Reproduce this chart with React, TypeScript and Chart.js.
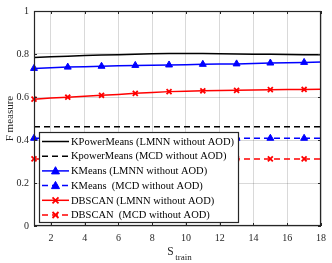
import React, { useEffect, useRef } from "react";
import { Chart, registerables } from "chart.js";

Chart.register(...registerables);

const sTrain = [1, 2, 3, 4, 5, 6, 7, 8, 9, 10, 11, 12, 13, 14, 15, 16, 17, 18];
const kpmLmnn = [0.784, 0.787, 0.79, 0.793, 0.795, 0.797, 0.799, 0.801, 0.802, 0.802, 0.802, 0.801, 0.8, 0.799, 0.799, 0.798, 0.797, 0.796];
const kpmMcd = [0.462, 0.462, 0.462, 0.462, 0.462, 0.462, 0.462, 0.462, 0.462, 0.462, 0.462, 0.462, 0.462, 0.462, 0.462, 0.462, 0.462, 0.462];
const kmLmnn = [0.733, 0.736, 0.739, 0.741, 0.743, 0.745, 0.747, 0.748, 0.749, 0.75, 0.752, 0.753, 0.754, 0.756, 0.758, 0.759, 0.761, 0.763];
const kmMcd = [0.408, 0.408, 0.408, 0.408, 0.408, 0.408, 0.408, 0.408, 0.408, 0.408, 0.408, 0.408, 0.408, 0.408, 0.408, 0.408, 0.408, 0.408];
const dbLmnn = [0.59, 0.595, 0.599, 0.603, 0.608, 0.612, 0.617, 0.621, 0.625, 0.627, 0.629, 0.63, 0.631, 0.633, 0.634, 0.635, 0.635, 0.636];
const dbMcd = [0.312, 0.312, 0.312, 0.312, 0.312, 0.312, 0.312, 0.312, 0.312, 0.312, 0.312, 0.312, 0.312, 0.312, 0.312, 0.312, 0.312, 0.312];
const markerAt = [1, 3, 5, 7, 9, 11, 13, 15, 17];

const xTicks = [2, 4, 6, 8, 10, 12, 14, 16, 18];
const yTicks = [0, 0.2, 0.4, 0.6, 0.8, 1];

const seriesLabels = [
  "KPowerMeans (LMNN without AOD)",
  "KpowerMeans (MCD without AOD)",
  "KMeans (LMNN without AOD)",
  "KMeans  (MCD without AOD)",
  "DBSCAN (LMNN without AOD)",
  "DBSCAN  (MCD without AOD)",
];
const xTitle = "S";
const xTitleSub = "train";
const yTitle = "F measure";

const SERIF = "'Liberation Serif', 'Times New Roman', serif";
const AXIS = "#262626";
const GRID = "rgba(0,0,0,0.15)";
const DASH = [6, 4];

function drawMarker(ctx: CanvasRenderingContext2D, style: string, x: number, y: number, r: number, color: string) {
  ctx.save();
  ctx.fillStyle = color;
  ctx.strokeStyle = color;
  if (style === "triangle") {
    ctx.beginPath();
    ctx.moveTo(x, y - r * 1.05);
    ctx.lineTo(x + r, y + r * 0.75);
    ctx.lineTo(x - r, y + r * 0.75);
    ctx.closePath();
    ctx.fill();
    ctx.lineWidth = 1;
    ctx.stroke();
  } else if (style === "crossRot") {
    ctx.lineWidth = 1.8;
    ctx.beginPath();
    ctx.moveTo(x - r * 0.75, y - r * 0.75);
    ctx.lineTo(x + r * 0.75, y + r * 0.75);
    ctx.moveTo(x + r * 0.75, y - r * 0.75);
    ctx.lineTo(x - r * 0.75, y + r * 0.75);
    ctx.stroke();
  }
  ctx.restore();
}

const framePlugin = {
  id: "frame",
  afterDatasetsDraw(chart: any) {
    const { ctx, chartArea, scales } = chart;
    const { left, right, top, bottom } = chartArea;
    const xs = scales.x;
    const ys = scales.y;
    ctx.save();
    ctx.strokeStyle = AXIS;
    ctx.lineWidth = 1;
    ctx.beginPath();
    for (const v of xTicks) {
      const px = Math.round(xs.getPixelForValue(v)) + 0.5;
      ctx.moveTo(px, bottom);
      ctx.lineTo(px, bottom - 3);
      ctx.moveTo(px, top);
      ctx.lineTo(px, top + 3);
    }
    for (const v of yTicks) {
      const py = Math.round(ys.getPixelForValue(v)) + 0.5;
      ctx.moveTo(left, py);
      ctx.lineTo(left + 3, py);
      ctx.moveTo(right, py);
      ctx.lineTo(right - 3, py);
    }
    ctx.stroke();
    ctx.lineWidth = 1.2;
    ctx.strokeRect(left + 0.5, top + 0.5, right - left - 1, bottom - top - 1);
    ctx.restore();
  },
  afterDraw(chart: any) {
    const { ctx, chartArea } = chart;
    ctx.save();
    // legend
    const lx = 39, ly = 132, lw = 200, lh = 91;
    ctx.fillStyle = "#ffffff";
    ctx.fillRect(lx, ly, lw, lh);
    ctx.strokeStyle = AXIS;
    ctx.lineWidth = 1.2;
    ctx.strokeRect(lx + 0.5, ly + 0.5, lw - 1, lh - 1);
    ctx.font = `10.5px ${SERIF}`;
    ctx.textBaseline = "middle";
    ctx.textAlign = "left";
    chart.data.datasets.forEach((ds: any, i: number) => {
      const cy = ly + 9.5 + i * 14.7;
      ctx.save();
      ctx.strokeStyle = ds.borderColor;
      ctx.lineWidth = 1.5;
      ctx.setLineDash(ds.borderDash || []);
      ctx.beginPath();
      ctx.moveTo(lx + 3, cy);
      ctx.lineTo(lx + 30, cy);
      ctx.stroke();
      ctx.restore();
      if (ds.legendMarker) drawMarker(ctx, ds.legendMarker, lx + 16.5, cy, 4, ds.borderColor);
      ctx.fillStyle = "#000000";
      ctx.fillText(ds.label, lx + 32, cy + 0.5);
    });
    // y title
    ctx.save();
    ctx.translate(10, (chartArea.top + chartArea.bottom) / 2);
    ctx.rotate(-Math.PI / 2);
    ctx.font = `11px ${SERIF}`;
    ctx.fillStyle = AXIS;
    ctx.textAlign = "center";
    ctx.textBaseline = "middle";
    ctx.fillText(yTitle, 0, 0);
    ctx.restore();
    // x title with subscript
    ctx.fillStyle = AXIS;
    ctx.textBaseline = "alphabetic";
    ctx.font = `11.5px ${SERIF}`;
    const sw = ctx.measureText(xTitle).width;
    ctx.font = `9px ${SERIF}`;
    const tw = ctx.measureText(xTitleSub).width;
    const total = sw + 1.5 + tw;
    const cx = (chartArea.left + chartArea.right) / 2 + 2;
    const sx = cx - total / 2;
    ctx.font = `11.5px ${SERIF}`;
    ctx.fillText(xTitle, sx, 255);
    ctx.font = `9px ${SERIF}`;
    ctx.fillText(xTitleSub, sx + sw + 1.5, 260);
    ctx.restore();
  },
};

function makeDataset(label: string, values: number[], color: string, dashed: boolean, marker: string | null) {
  return {
    label,
    data: sTrain.map((x, i) => ({ x, y: values[i] })),
    borderColor: color,
    backgroundColor: color,
    borderWidth: 1.5,
    borderDash: dashed ? DASH : [],
    pointStyle: marker || "circle",
    pointRadius: (c: any) => (marker && markerAt.includes(sTrain[c.dataIndex]) ? (marker === "triangle" ? 4 : 3.5) : 0),
    pointBorderWidth: marker === "crossRot" ? 1.8 : 1,
    pointBackgroundColor: color,
    pointBorderColor: color,
    tension: 0,
    clip: false,
    legendMarker: marker,
  };
}

export default function App() {
  const ref = useRef<HTMLCanvasElement | null>(null);
  useEffect(() => {
    if (!ref.current) return;
    const chart = new Chart(ref.current, {
      type: "line",
      data: {
        datasets: [
          makeDataset(seriesLabels[0], kpmLmnn, "#000000", false, null),
          makeDataset(seriesLabels[1], kpmMcd, "#000000", true, null),
          makeDataset(seriesLabels[2], kmLmnn, "#0000ff", false, "triangle"),
          makeDataset(seriesLabels[3], kmMcd, "#0000ff", true, "triangle"),
          makeDataset(seriesLabels[4], dbLmnn, "#ff0000", false, "crossRot"),
          makeDataset(seriesLabels[5], dbMcd, "#ff0000", true, "crossRot"),
        ] as any,
      },
      options: {
        responsive: false,
        animation: false,
        devicePixelRatio: 1,
        layout: { padding: { top: 4, right: 9, left: 0, bottom: 0 } },
        plugins: { legend: { display: false }, tooltip: { enabled: false } },
        scales: {
          x: {
            type: "linear",
            min: 1,
            max: 18,
            afterBuildTicks: (s: any) => {
              s.ticks = xTicks.map((value) => ({ value }));
            },
            afterFit: (s: any) => {
              s.height = 37;
            },
            grid: { color: GRID, drawTicks: false, lineWidth: 1 },
            border: { display: false },
            ticks: { font: { family: SERIF, size: 10 }, color: AXIS, padding: 6, maxRotation: 0, callback: (v: any) => String(v) },
          },
          y: {
            type: "linear",
            min: 0,
            max: 1,
            afterBuildTicks: (s: any) => {
              s.ticks = yTicks.map((value) => ({ value }));
            },
            afterFit: (s: any) => {
              s.width = 34;
            },
            grid: { color: GRID, drawTicks: false, lineWidth: 1 },
            border: { display: false },
            ticks: { font: { family: SERIF, size: 10 }, color: AXIS, padding: 5, callback: (v: any) => String(v) },
          },
        },
      },
      plugins: [framePlugin],
    } as any);
    return () => chart.destroy();
  }, []);
  return (
    <div style={{ position: "fixed", left: 0, top: 0, width: 332, height: 263, background: "#ffffff" }}>
      <canvas ref={ref} width={332} height={263} style={{ width: 332, height: 263, display: "block" }} />
    </div>
  );
}
